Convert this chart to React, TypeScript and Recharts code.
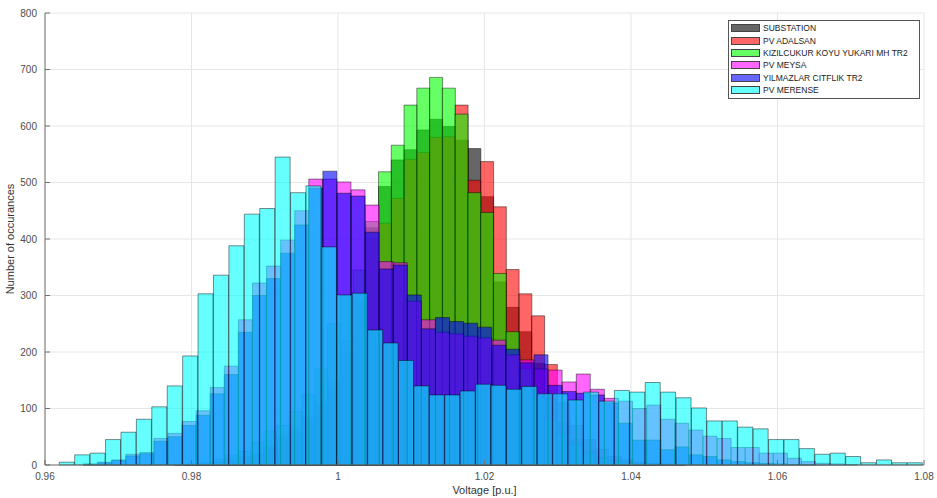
import React from "react";
import {
  ComposedChart,
  Bar,
  XAxis,
  YAxis,
  CartesianGrid,
} from "recharts";

// every series is a 56-bin histogram, each with its own bin start/width (p.u.)
const BIN_COUNT = 56;

const merenseStart = 0.96195;
const merenseWidth = 0.002105;
const yilmazStart = 0.96526;
const yilmazWidth = 0.001922;
const substStart = 0.97594;
const substWidth = 0.001741;

const substationCounts = [
  0, 0, 1, 2, 5, 8, 12, 18, 28, 45, 60, 80, 105, 140, 200, 290,
  420, 493, 540, 558, 593, 612, 599, 575, 560, 475, 324, 279, 236, 180, 120, 75,
  45, 25, 14, 8, 4, 2, 1, 0, 0, 0, 0, 0, 0, 0, 0, 0,
  0, 0, 0, 0, 0, 0, 0, 0,
];
const adalsanCounts = [
  0, 1, 1, 3, 6, 10, 15, 20, 32, 50, 65, 85, 110, 150, 220, 300,
  400, 428, 472, 541, 553, 580, 581, 637, 504, 537, 457, 346, 303, 264, 178, 110,
  70, 45, 28, 15, 9, 5, 3, 2, 1, 0, 0, 0, 0, 0, 0, 0,
  0, 0, 0, 0, 0, 0, 0, 0,
];
const kizilcukurCounts = [
  0, 1, 2, 5, 10, 18, 24, 40, 60, 70, 95, 125, 170, 250, 300, 345,
  431, 519, 566, 637, 667, 686, 667, 621, 482, 447, 339, 236, 170, 120, 80, 55,
  35, 20, 12, 8, 5, 3, 2, 1, 1, 0, 0, 0, 0, 0, 0, 0,
  0, 0, 0, 0, 0, 0, 0, 0,
];
const meysaCounts = [
  2, 5, 9, 19, 22, 47, 56, 77, 96, 137, 175, 257, 322, 352, 398, 450,
  506, 506, 501, 487, 460, 360, 358, 290, 257, 235, 232, 228, 225, 221, 195, 186,
  170, 168, 147, 161, 134, 118, 113, 100, 106, 81, 74, 62, 51, 47, 31, 31,
  21, 21, 12, 6, 3, 2, 1, 0,
];
const yilmazlarCounts = [
  1, 4, 8, 16, 20, 42, 50, 70, 88, 126, 160, 235, 300, 330, 375, 425,
  490, 520, 481, 476, 412, 347, 354, 301, 241, 261, 254, 251, 244, 212, 205, 181,
  195, 141, 130, 127, 124, 110, 74, 44, 44, 27, 32, 18, 15, 9, 6, 4,
  3, 2, 1, 1, 0, 0, 0, 0,
];
const merenseCounts = [
  5, 18, 21, 45, 58, 81, 103, 140, 193, 303, 336, 388, 444, 454, 545, 482,
  494, 386, 301, 304, 239, 216, 185, 140, 124, 124, 131, 143, 141, 134, 139, 126,
  126, 115, 129, 113, 132, 129, 146, 129, 119, 101, 78, 78, 67, 64, 45, 45,
  29, 19, 21, 15, 4, 9, 4, 4,
];

const xTicks = [0.96, 0.98, 1, 1.02, 1.04, 1.06, 1.08];
const yTicks = [0, 100, 200, 300, 400, 500, 600, 700, 800];

// drawn in this order, so PV MERENSE ends up on top
const SERIES = [
  { key: "sub", binKey: "gx", name: "SUBSTATION", color: "#000000", swatch: "#666666" },
  { key: "adalsan", binKey: "gx", name: "PV ADALSAN", color: "#ff0000", swatch: "#ff6666" },
  { key: "kiz", binKey: "gx", name: "KIZILCUKUR KOYU YUKARI MH TR2", color: "#00ff00", swatch: "#66ff66" },
  { key: "meysa", binKey: "bx", name: "PV MEYSA", color: "#ff00ff", swatch: "#ff66ff" },
  { key: "yilmaz", binKey: "bx", name: "YILMAZLAR CITFLIK TR2", color: "#0000ff", swatch: "#6666ff" },
  { key: "merense", binKey: "cx", name: "PV MERENSE", color: "#00ffff", swatch: "#66ffff" },
];

const data = Array.from({ length: BIN_COUNT }, (_, i) => ({
  cx: merenseStart + (i + 0.5) * merenseWidth,
  bx: yilmazStart + (i + 0.5) * yilmazWidth,
  gx: substStart + (i + 0.5) * substWidth,
  sub: substationCounts[i],
  adalsan: adalsanCounts[i],
  kiz: kizilcukurCounts[i],
  meysa: meysaCounts[i],
  yilmaz: yilmazlarCounts[i],
  merense: merenseCounts[i],
}));

const axisColor = "#707070";
const textColor = "#4d4d4d";

export default function App() {
  return (
    <div style={{ position: "relative", width: 937, height: 498, fontFamily: "'Liberation Sans', Arial, sans-serif" }}>
      <style>{"body{margin:0}"}</style>
      <ComposedChart
        width={937}
        height={498}
        data={data}
        margin={{ top: 13, right: 13, bottom: 0, left: 0 }}
        barCategoryGap={0}
        barGap={0}
      >
        <CartesianGrid xAxisId="main" stroke="#e6e6e6" />
        <XAxis
          xAxisId="main"
          dataKey="cx"
          type="number"
          domain={[0.96, 1.08]}
          allowDataOverflow
          ticks={xTicks}
          interval={0}
          tickFormatter={(v) => String(v)}
          height={33}
          stroke={axisColor}
          tickSize={-5}
          tickMargin={13}
          tick={{ fontSize: 10, fill: textColor }}
          label={{ value: "Voltage [p.u.]", position: "insideBottom", offset: 4, fontSize: 11, fill: "#333" }}
        />
        <XAxis
          xAxisId="top"
          orientation="top"
          dataKey="cx"
          type="number"
          domain={[0.96, 1.08]}
          allowDataOverflow
          ticks={xTicks}
          height={0}
          stroke={axisColor}
          tickSize={-5}
          tickFormatter={() => ""}
        />
        {SERIES.map((s) => (
          <XAxis
            key={s.key}
            xAxisId={"bins-" + s.key}
            dataKey={s.binKey}
            type="number"
            domain={[0.96, 1.08]}
            allowDataOverflow
            height={0}
            hide
          />
        ))}
        <YAxis
          domain={[0, 800]}
          ticks={yTicks}
          interval={0}
          width={45}
          stroke={axisColor}
          tickSize={-5}
          tickMargin={13}
          tick={{ fontSize: 10, fill: textColor }}
          label={{
            value: "Number of occurances",
            angle: -90,
            position: "insideLeft",
            offset: 10,
            fontSize: 11,
            fill: "#333",
            style: { textAnchor: "middle" },
          }}
        />
        <YAxis
          yAxisId="right"
          orientation="right"
          domain={[0, 800]}
          ticks={yTicks}
          width={0}
          stroke={axisColor}
          tickSize={-5}
          tickFormatter={() => ""}
        />
        {SERIES.map((s) => (
          <Bar
            key={s.key}
            xAxisId={"bins-" + s.key}
            dataKey={s.key}
            name={s.name}
            fill={s.color}
            fillOpacity={0.6}
            stroke="#000"
            strokeOpacity={0.75}
            strokeWidth={0.6}
            isAnimationActive={false}
          />
        ))}
      </ComposedChart>
      <div
        style={{
          position: "absolute",
          left: 728,
          top: 20,
          width: 190,
          padding: "1px 0 2px 0",
          border: "1px solid #555",
          background: "#fff",
          fontSize: 8.5,
          color: "#222",
        }}
      >
        {SERIES.map((s) => (
          <div key={s.key} style={{ display: "flex", alignItems: "center", height: 12.4 }}>
            <span
              style={{
                display: "inline-block",
                width: 29,
                height: 8,
                marginLeft: 2,
                marginRight: 3,
                background: s.swatch,
                border: "1px solid #444",
                boxSizing: "border-box",
              }}
            />
            <span style={{ whiteSpace: "nowrap" }}>{s.name}</span>
          </div>
        ))}
      </div>
    </div>
  );
}
